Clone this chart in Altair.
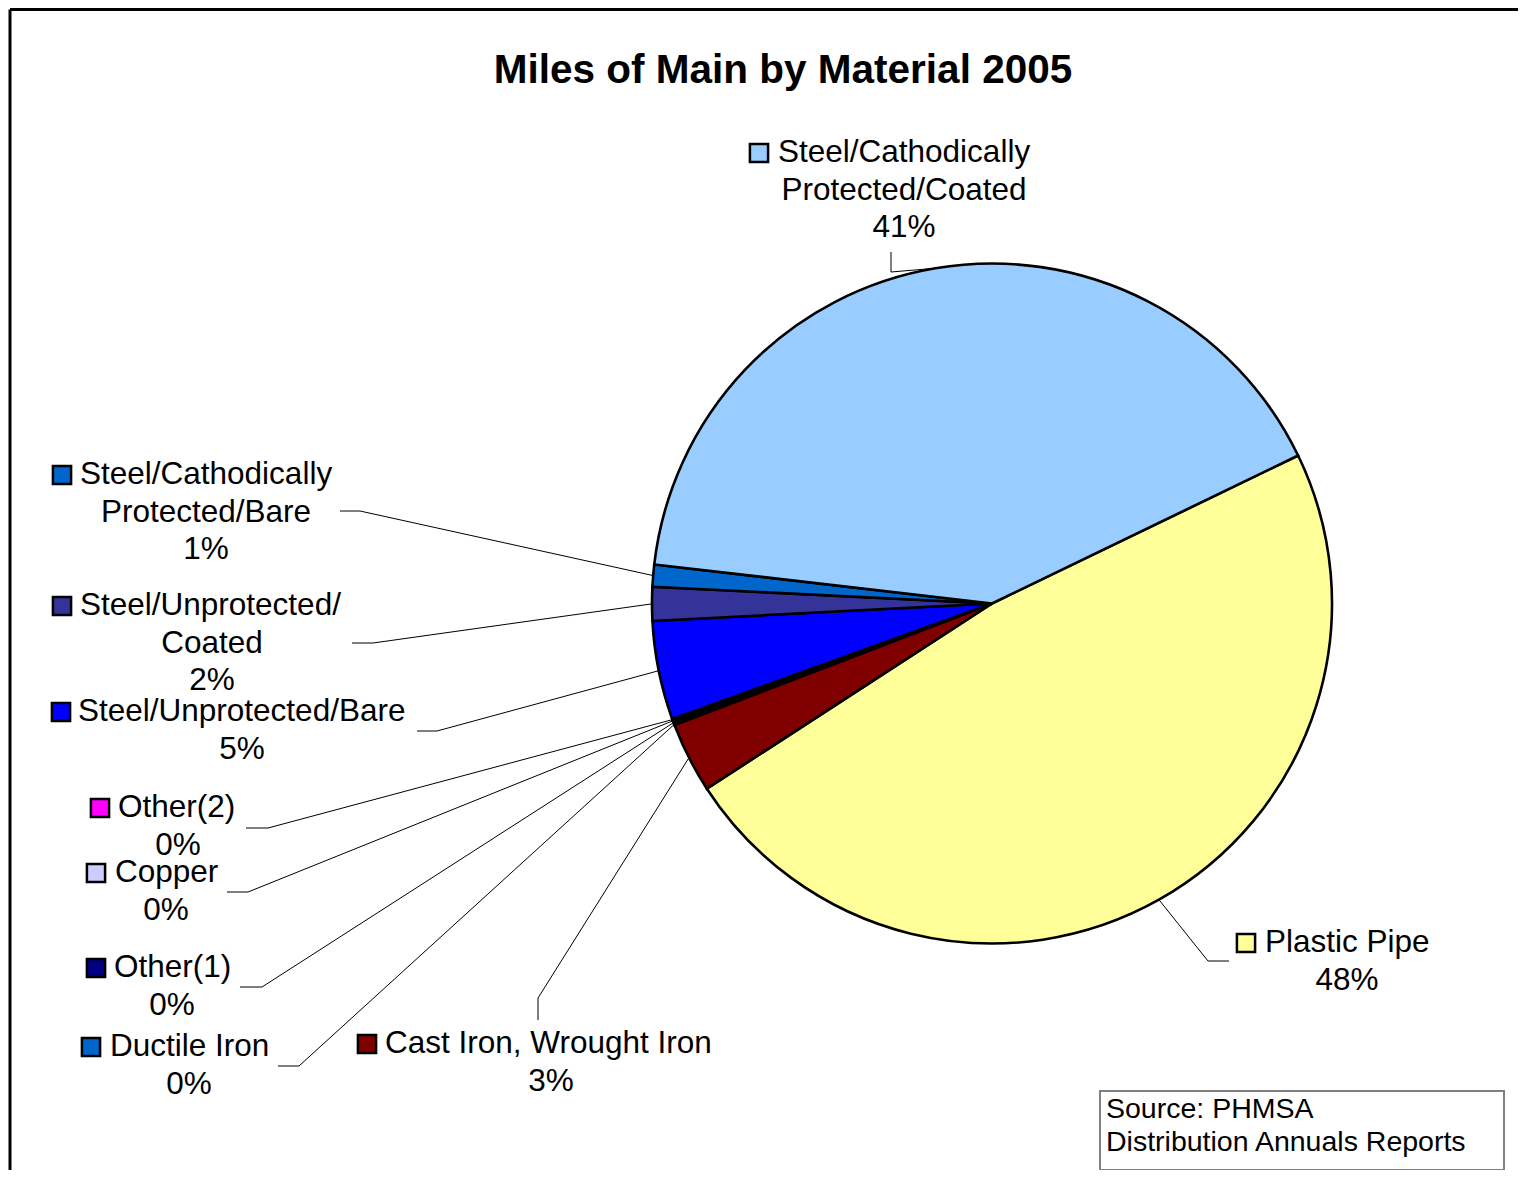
import altair as alt
import pandas as pd

# ---------------- data ----------------
materials = [
    "Plastic Pipe",
    "Cast Iron, Wrought Iron",
    "Ductile Iron",
    "Other(1)",
    "Copper",
    "Other(2)",
    "Steel/Unprotected/Bare",
    "Steel/Unprotected/Coated",
    "Steel/Cathodically Protected/Bare",
    "Steel/Cathodically Protected/Coated",
]
shares = [48.0, 3.35, 0.06, 0.12, 0.06, 0.06, 4.7, 1.6, 1.05, 41.0]
pct_labels = ["48%", "3%", "0%", "0%", "0%", "0%", "5%", "2%", "1%", "41%"]
label_lines = [
    ["Plastic Pipe"],
    ["Cast Iron, Wrought Iron"],
    ["Ductile Iron"],
    ["Other(1)"],
    ["Copper"],
    ["Other(2)"],
    ["Steel/Unprotected/Bare"],
    ["Steel/Unprotected/", "Coated"],
    ["Steel/Cathodically", "Protected/Bare"],
    ["Steel/Cathodically", "Protected/Coated"],
]
colors = ["#FFFF99", "#800000", "#0066CC", "#000080", "#CCCCFF", "#FF00FF",
          "#0000FF", "#333399", "#0066CC", "#99CCFF"]

title_text = "Miles of Main by Material 2005"
source_lines = ["Source: PHMSA", "Distribution Annuals Reports"]

# ---------------- layout (page pixel coordinates) ----------------
OFF = 8
W, H = 1510, 1162
FONT = "Liberation Sans"
CX, CY, R = 992, 603.5, 340
START = 1.1205  # radians, clockwise from 12 o'clock
STEP = 37.5
LABEL_SIZE = 31.5

# key centre x, key centre y, text left x, centred column x
label_pos = {
    "Plastic Pipe": (1246, 943, 1265, 1347),
    "Cast Iron, Wrought Iron": (367, 1044, 385, 551),
    "Ductile Iron": (91, 1047, 110, 189),
    "Other(1)": (96, 968, 114, 172),
    "Copper": (96, 873, 115, 166),
    "Other(2)": (100, 808, 118, 178),
    "Steel/Unprotected/Bare": (61, 712, 78, 242),
    "Steel/Unprotected/Coated": (62, 606, 80, 212),
    "Steel/Cathodically Protected/Bare": (62, 475, 80, 206),
    "Steel/Cathodically Protected/Coated": (759, 153, 778, 904),
}
# leader line: label end point, elbow point (the rest goes to the slice)
leader_pos = {
    "Plastic Pipe": (1229, 961, 1208, 961),
    "Cast Iron, Wrought Iron": (538, 1020, 538, 998),
    "Ductile Iron": (278, 1066, 299, 1066),
    "Other(1)": (240, 987, 262, 987),
    "Copper": (227, 892, 248, 892),
    "Other(2)": (246, 828, 268, 828),
    "Steel/Unprotected/Bare": (417, 731, 437, 731),
    "Steel/Unprotected/Coated": (352, 643, 373, 643),
    "Steel/Cathodically Protected/Bare": (340, 511, 360, 511),
    "Steel/Cathodically Protected/Coated": (891, 252, 891, 272),
}

# ---------------- tables ----------------
slices = pd.DataFrame({
    "material": materials,
    "value": shares,
    "order": list(range(len(materials))),
})
slices["p1x"] = [leader_pos[m][0] for m in materials]
slices["p1y"] = [leader_pos[m][1] for m in materials]
slices["elx"] = [leader_pos[m][2] for m in materials]
slices["ely"] = [leader_pos[m][3] for m in materials]

keys = pd.DataFrame({
    "material": materials,
    "kx": [label_pos[m][0] for m in materials],
    "ky": [label_pos[m][1] for m in materials],
})

rows = []
for m, lines, pct in zip(materials, label_lines, pct_labels):
    kx, ky, tx, ccx = label_pos[m]
    all_lines = lines + [pct]
    for i, t in enumerate(all_lines):
        if i == 0:
            rows.append({"text": t, "x": tx, "y": ky, "align": "left"})
        else:
            rows.append({"text": t, "x": ccx, "y": ky + STEP * i, "align": "center"})
texts = pd.DataFrame(rows)

xs = alt.Scale(domain=[OFF, OFF + W], range=[0, W])
ys = alt.Scale(domain=[OFF, OFF + H], range=[0, H])
color_scale = alt.Scale(domain=materials, range=colors)

# ---------------- layers ----------------
pie = alt.Chart(slices).mark_arc(
    radius=R, stroke="black", strokeWidth=2.6
).encode(
    theta=alt.Theta("value:Q", stack=True,
                    scale=alt.Scale(range=[START, START + 6.283185307179586])),
    order=alt.Order("order:Q"),
    color=alt.Color("material:N", scale=color_scale, legend=None),
    x=alt.value(CX - OFF),
    y=alt.value(CY - OFF),
)

leader_base = alt.Chart(slices).transform_window(
    cum="sum(value)", sort=[alt.SortField("order")], frame=[None, 0]
).transform_joinaggregate(
    total="sum(value)"
).transform_calculate(
    mid=f"{START} + 2*PI*(datum.cum - datum.value/2)/datum.total"
).transform_calculate(
    ex=f"{CX} + {R}*sin(datum.mid)",
    ey=f"{CY} - {R}*cos(datum.mid)",
)

diag = leader_base.mark_rule(color="black", strokeWidth=1).encode(
    x=alt.X("elx:Q", scale=xs, axis=None),
    y=alt.Y("ely:Q", scale=ys, axis=None),
    x2="ex:Q",
    y2="ey:Q",
)

stub = alt.Chart(slices).mark_rule(color="black", strokeWidth=1).encode(
    x=alt.X("p1x:Q", scale=xs, axis=None),
    y=alt.Y("p1y:Q", scale=ys, axis=None),
    x2="elx:Q",
    y2="ely:Q",
)

key_marks = alt.Chart(keys).mark_square(
    size=330, stroke="black", strokeWidth=2.5, opacity=1
).encode(
    x=alt.X("kx:Q", scale=xs, axis=None),
    y=alt.Y("ky:Q", scale=ys, axis=None),
    color=alt.Color("material:N", scale=color_scale, legend=None),
)

label_left = alt.Chart(texts).transform_filter("datum.align == 'left'").mark_text(
    font=FONT, fontSize=LABEL_SIZE, align="left", baseline="middle", color="black"
).encode(
    x=alt.X("x:Q", scale=xs, axis=None),
    y=alt.Y("y:Q", scale=ys, axis=None),
    text="text:N",
)
label_center = alt.Chart(texts).transform_filter("datum.align == 'center'").mark_text(
    font=FONT, fontSize=LABEL_SIZE, align="center", baseline="middle", color="black"
).encode(
    x=alt.X("x:Q", scale=xs, axis=None),
    y=alt.Y("y:Q", scale=ys, axis=None),
    text="text:N",
)

title_df = pd.DataFrame({"text": [title_text], "x": [783], "y": [71]})
title = alt.Chart(title_df).mark_text(
    font=FONT, fontSize=40.5, fontWeight="bold", align="center", baseline="middle", color="black"
).encode(
    x=alt.X("x:Q", scale=xs, axis=None),
    y=alt.Y("y:Q", scale=ys, axis=None),
    text="text:N",
)

box_df = pd.DataFrame({"x": [1100], "x2": [1504], "y": [1091], "y2": [1170]})
box = alt.Chart(box_df).mark_rect(
    fill="white", stroke="#808080", strokeWidth=2
).encode(
    x=alt.X("x:Q", scale=xs, axis=None),
    x2="x2:Q",
    y=alt.Y("y:Q", scale=ys, axis=None),
    y2="y2:Q",
)
src_df = pd.DataFrame({"text": source_lines, "x": [1106, 1106], "y": [1109, 1142]})
src = alt.Chart(src_df).mark_text(
    font=FONT, fontSize=28.5, align="left", baseline="middle", color="black"
).encode(
    x=alt.X("x:Q", scale=xs, axis=None),
    y=alt.Y("y:Q", scale=ys, axis=None),
    text="text:N",
)

frame_df = pd.DataFrame({"x": [10, 10], "y": [9.5, 9.5], "x2": [OFF + W, 10], "y2": [9.5, OFF + H]})
frame = alt.Chart(frame_df).mark_rule(color="black", strokeWidth=3).encode(
    x=alt.X("x:Q", scale=xs, axis=None),
    y=alt.Y("y:Q", scale=ys, axis=None),
    x2="x2:Q",
    y2="y2:Q",
)

chart = alt.layer(
    frame, stub, diag, pie, key_marks, label_left, label_center, title, box, src
).properties(
    width=W, height=H, autosize="none", padding=0, background="white"
).configure_view(stroke=None)

chart.save("out.html", embed_options={"renderer": "svg", "actions": False})
